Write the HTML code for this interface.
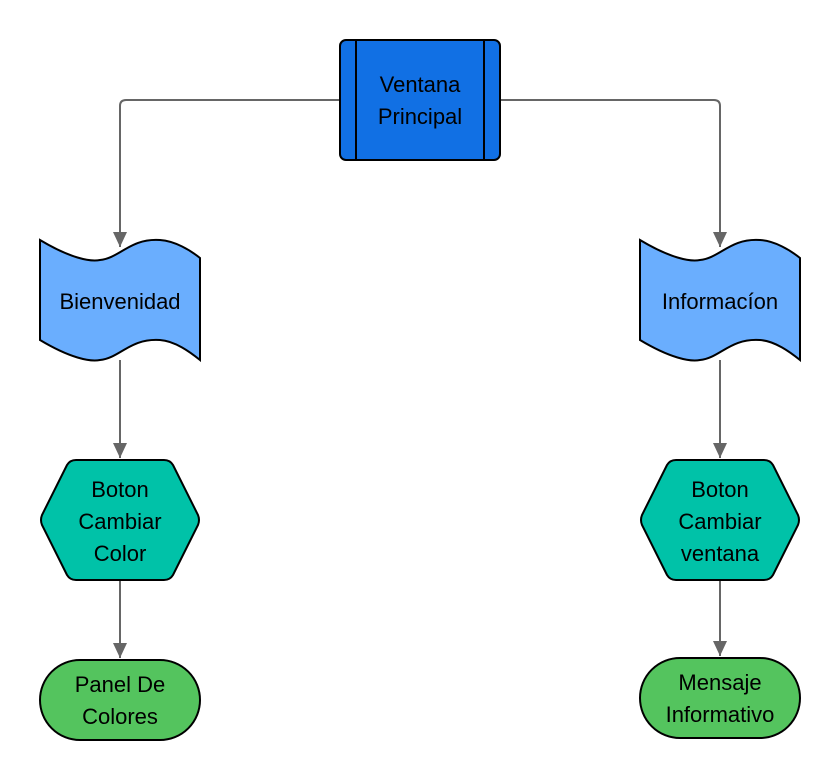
<!DOCTYPE html>
<html><head><meta charset="utf-8"><style>
html,body{margin:0;padding:0;background:#fff;}
svg{display:block;}
text{font-family:"Liberation Sans",sans-serif;font-size:22px;fill:#000;text-anchor:middle;}
</style></head><body>
<svg width="840" height="780" viewBox="0 0 840 780" xmlns="http://www.w3.org/2000/svg">
<g fill="none" stroke="#666" stroke-width="2">
<path d="M340,100 L126,100 Q120,100 120,106 L120,247"/>
<path d="M500,100 L714,100 Q720,100 720,106 L720,247"/>
<path d="M120,360 L120,458"/>
<path d="M720,360 L720,458"/>
<path d="M120,580 L120,658"/>
<path d="M720,580 L720,656"/>
</g>
<g fill="#666">
<path d="M113,232 L127,232 L120,247 z"/>
<path d="M713,232 L727,232 L720,247 z"/>
<path d="M113,443 L127,443 L120,458 z"/>
<path d="M713,443 L727,443 L720,458 z"/>
<path d="M113,643 L127,643 L120,658 z"/>
<path d="M713,641 L727,641 L720,656 z"/>
</g>
<rect x="340" y="40" width="160" height="120" rx="6" fill="#1170e4" stroke="#000" stroke-width="2"/>
<line x1="356" y1="40" x2="356" y2="160" stroke="#000" stroke-width="2"/>
<line x1="484" y1="40" x2="484" y2="160" stroke="#000" stroke-width="2"/>
<text x="420" y="92">Ventana</text>
<text x="420" y="124">Principal</text>
<path d="M40,240 C70,258 90,262 100,260 C120,258 130,238 160,240 C175,241 190,250 200,258 L200,360 C190,352 175,341 160,340 C130,338 120,358 100,360 C90,362 70,358 40,340 Z" fill="#6aaefe" stroke="#000" stroke-width="2"/>
<text x="120" y="309">Bienvenidad</text>
<path d="M640,240 C670,258 690,262 700,260 C720,258 730,238 760,240 C775,241 790,250 800,258 L800,360 C790,352 775,341 760,340 C730,338 720,358 700,360 C690,362 670,358 640,340 Z" fill="#6aaefe" stroke="#000" stroke-width="2"/>
<text x="720" y="309">Informacíon</text>
<path d="M76,460 L164,460 Q170,460 173,465 L198,515 Q200,520 198,525 L173,575 Q170,580 164,580 L76,580 Q70,580 67,575 L42,525 Q40,520 42,515 L67,465 Q70,460 76,460 Z" fill="#00c2a8" stroke="#000" stroke-width="2"/>
<text x="120" y="497">Boton</text>
<text x="120" y="529">Cambiar</text>
<text x="120" y="561">Color</text>
<path d="M676,460 L764,460 Q770,460 773,465 L798,515 Q800,520 798,525 L773,575 Q770,580 764,580 L676,580 Q670,580 667,575 L642,525 Q640,520 642,515 L667,465 Q670,460 676,460 Z" fill="#00c2a8" stroke="#000" stroke-width="2"/>
<text x="720" y="497">Boton</text>
<text x="720" y="529">Cambiar</text>
<text x="720" y="561">ventana</text>
<rect x="40" y="660" width="160" height="80" rx="40" fill="#54c45e" stroke="#000" stroke-width="2"/>
<text x="120" y="692">Panel De</text>
<text x="120" y="724">Colores</text>
<rect x="640" y="658" width="160" height="80" rx="40" fill="#54c45e" stroke="#000" stroke-width="2"/>
<text x="720" y="690">Mensaje</text>
<text x="720" y="722">Informativo</text>
</svg>
</body></html>
